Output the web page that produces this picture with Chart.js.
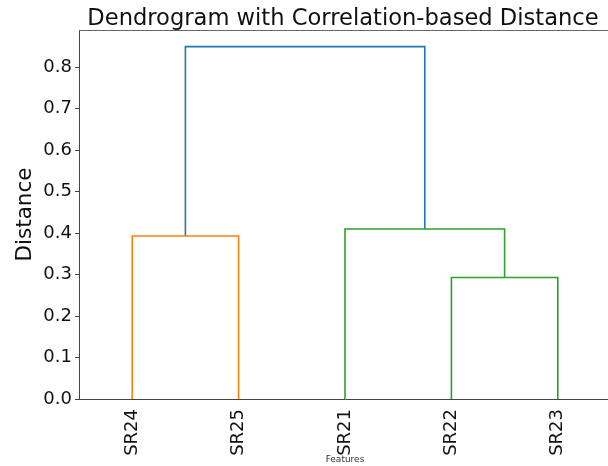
<!DOCTYPE html>
<html><head><meta charset="utf-8">
<script src="https://cdn.jsdelivr.net/npm/chart.js@4"></script>
<style>html,body{margin:0;padding:0;overflow:hidden;background:#fff;width:608px;height:466px}canvas{position:absolute;left:0;top:0}</style>
</head><body><canvas id="c" width="686" height="466"></canvas>
<script>
const leafLabels = ['SR24', 'SR25', 'SR21', 'SR22', 'SR23'];
const leafPositions = [5, 15, 25, 35, 45];
const linkX = [[5, 5, 15, 15], [35, 35, 45, 45], [25, 25, 40, 40], [10, 10, 32.5, 32.5]];
const linkHeights = [[0, 0.393, 0.393, 0], [0, 0.293, 0.293, 0], [0, 0.41, 0.41, 0.293], [0.393, 0.85, 0.85, 0.41]];
const linkColors = ['#ff7f0e', '#2ca02c', '#2ca02c', '#1f77b4'];
const yTicks = [0, 0.1, 0.2, 0.3, 0.4, 0.5, 0.6, 0.7, 0.8];

Chart.defaults.font.family = "'DejaVu Sans', sans-serif";
Chart.defaults.color = '#222';

const datasets = linkX.map((xs, i) => ({
  data: xs.map((x, j) => ({x: x, y: linkHeights[i][j]})),
  borderColor: linkColors[i],
  borderWidth: 1.6,
  showLine: true,
  pointRadius: 0,
  tension: 0,
  fill: false
}));

const topSpine = {
  id: 'topSpine',
  afterDraw(chart) {
    const {ctx, chartArea: a} = chart;
    ctx.save();
    ctx.strokeStyle = '#666';
    ctx.lineWidth = 1;
    ctx.beginPath();
    ctx.moveTo(a.left, a.top + 0.5);
    ctx.lineTo(a.right, a.top + 0.5);
    ctx.stroke();
    ctx.restore();
  }
};

new Chart(document.getElementById('c'), {
  type: 'scatter',
  data: {datasets},
  plugins: [topSpine],
  options: {
    responsive: false,
    animation: false,
    layout: {padding: 0},
    plugins: {
      legend: {display: false},
      tooltip: {enabled: false},
      title: {
        display: true,
        text: 'Dendrogram with Correlation-based Distance',
        font: {size: 22.6, weight: 'normal', lineHeight: 1},
        color: '#111',
        padding: {top: 7.4, bottom: 0}
      }
    },
    scales: {
      x: {
        type: 'linear',
        min: 0,
        max: 50,
        afterBuildTicks: s => { s.ticks = leafPositions.map(v => ({value: v})); },
        afterFit: s => { s.height = 67; },
        ticks: {
          callback: (v) => leafLabels[leafPositions.indexOf(v)] || '',
          minRotation: 90,
          maxRotation: 90,
          autoSkip: false,
          padding: 10,
          color: '#111',
          font: {size: 18}
        },
        grid: {display: true, drawOnChartArea: false, drawTicks: false},
        border: {display: true, color: '#444', width: 1},
        title: {
          display: true,
          text: 'Features',
          font: {size: 9},
          color: '#333',
          padding: {top: 0, bottom: 0.6}
        }
      },
      y: {
        type: 'linear',
        min: 0,
        max: 0.89,
        afterBuildTicks: s => { s.ticks = yTicks.map(v => ({value: v})); },
        afterFit: s => { s.width = 79; },
        ticks: {
          callback: v => Number(v).toFixed(1),
          padding: 3,
          color: '#111',
          font: {size: 18}
        },
        grid: {display: true, drawOnChartArea: false, drawTicks: true, tickLength: 4, tickColor: '#444'},
        border: {display: true, color: '#444', width: 1},
        title: {
          display: true,
          text: 'Distance',
          font: {size: 21.5},
          color: '#111',
          padding: {top: 13, bottom: 0}
        }
      },
      y2: {
        type: 'linear',
        position: 'right',
        display: true,
        afterFit: s => { s.width = 75; },
        ticks: {display: false},
        grid: {display: false},
        border: {display: false}
      }
    }
  }
});
</script>
</body></html>
